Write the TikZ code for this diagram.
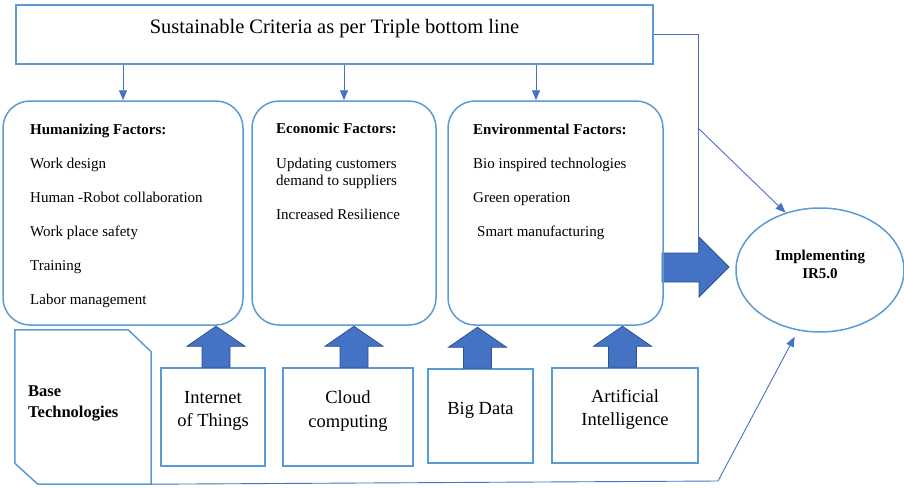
\documentclass[tikz,border=0pt]{standalone}
\usepackage{fontspec}
\setmainfont{Liberation Serif}
\usetikzlibrary{arrows.meta,calc,shapes.geometric}
\definecolor{outline}{HTML}{5B9BD5}
\definecolor{linkblue}{HTML}{4472C4}
\definecolor{arrowedge}{HTML}{2F528F}

\begin{document}
\begin{tikzpicture}[x=1pt,y=-1pt,
  panel/.style={draw=outline, line width=1.5pt, rounded corners=27pt, inner sep=0pt, minimum height=224pt},
  techbox/.style={draw=outline, line width=1.5pt, inner sep=0pt},
  factortext/.style={anchor=north west, align=left, inner sep=0pt, font=\fontsize{15}{17}\selectfont},
  techtext/.style={align=center, font=\fontsize{18.5}{23.5}\selectfont, yshift=6pt},
  link/.style={draw=linkblue, line width=0.9pt, -{Triangle[width=8pt,length=10pt]}},
  plainlink/.style={draw=linkblue, line width=0.9pt},
  blockarrow/.style={fill=linkblue, draw=arrowedge, line width=0.8pt},
  uparrow/.pic={\filldraw[blockarrow] (-14,0) -- (-14,-21) -- (-29,-21) -- (0,-41) -- (29,-21) -- (14,-21) -- (14,0) -- cycle;},
]
\useasboundingbox (0,0) rectangle (904,487);

% heading box
\node[techbox, minimum width=637pt, minimum height=59pt,
  label={[name=toptitle, font=\fontsize{20.5}{24}\selectfont, yshift=6pt]center:Sustainable Criteria as per Triple bottom line}]
  (top) at (334.5,34.5) {};

% big arrow towards the goal (drawn below the panel outline)
\filldraw[blockarrow] (662,253) -- (699,253) -- (699,237) -- (729,267) -- (699,297) -- (699,282) -- (662,282) -- cycle;

% the three factor panels
\node[panel, minimum width=240pt] (hum) at (123,213) {};
\node[panel, minimum width=184pt] (eco) at (344,213) {};
\node[panel, minimum width=215pt] (env) at (555.5,213) {};

\node[factortext] (humtext) at (30,123.5) {\textbf{Humanizing Factors:}\\[17pt]
  Work design\\[17pt] Human -Robot collaboration\\[17pt] Work place safety\\[17pt]
  Training\\[17pt] Labor management};
\node[factortext] (ecotext) at (276,122.5) {\textbf{Economic Factors:}\\[18pt]
  Updating customers\\ demand to suppliers\\[17pt] Increased Resilience};
\node[factortext] (envtext) at (473,123.5) {\textbf{Environmental Factors:}\\[17pt]
  Bio inspired technologies\\[17pt] Green operation\\[17pt] \hspace*{4pt}Smart manufacturing};

% heading feeds each panel
\draw[link] (top.south -| hum.north) -- (hum.north);
\draw[link] (top.south -| eco.north) -- (eco.north);
\coordinate (envin) at ($(env.north)+(-19.5,0)$);
\draw[link] (top.south -| envin) -- (envin);

% base technologies block with snipped corners
\node[minimum width=136pt, minimum height=154pt, inner sep=0pt] (base) at (83,407) {};
\draw[outline, line width=1.5pt] (base.north west) -- ($(base.north east)+(-23,0)$)
  -- ($(base.north east)+(0,22)$) -- (base.south east) -- ($(base.south west)+(23,0)$)
  -- ($(base.south west)+(0,-21)$) -- cycle;
\node[anchor=west, align=left, inner sep=0pt, font=\bfseries\fontsize{16.5}{21}\selectfont]
  (basetext) at (28,403) {Base\\Technologies};

% technology boxes
\node[techbox, minimum width=104pt, minimum height=98pt,
  label={[name=iottext, techtext]center:Internet\\of Things}] (iot) at (213,417) {};
\node[techbox, minimum width=130pt, minimum height=98pt,
  label={[name=cloudtext, techtext]center:Cloud\\computing}] (cloud) at (348,417) {};
\node[techbox, minimum width=105pt, minimum height=94pt,
  label={[name=bigtext, techtext]center:Big Data}] (bigdata) at (480.5,416) {};
\node[techbox, minimum width=146pt, minimum height=95pt,
  label={[name=aitext, techtext]center:Artificial\\Intelligence}] (ai) at (625,415.5) {};

\pic at ($(iot.north)+(3,0)$) {uparrow};
\pic at ($(cloud.north)+(6,0)$) {uparrow};
\pic at ($(bigdata.north)+(-3,0)$) {uparrow};
\pic at ($(ai.north)+(-2.5,0)$) {uparrow};

% goal
\node[draw=outline, line width=1.5pt, ellipse, minimum width=168pt, minimum height=124pt, inner sep=0pt,
  label={[name=impltext, align=center, font=\bfseries\fontsize{15}{18}\selectfont, yshift=6pt]center:Implementing\\IR5.0}]
  (impl) at (820,270) {};

% links to the goal
\coordinate (joint) at (698,253);
\coordinate (branch) at (698,128);
\coordinate (bend) at (718,481);
\draw[plainlink] (top.east) -| (joint);
\draw[link] (branch) -- (impl.121);
\draw[link, shorten >=7pt] (base.south east) -- (bend) -- (impl.250);
\end{tikzpicture}
\end{document}
